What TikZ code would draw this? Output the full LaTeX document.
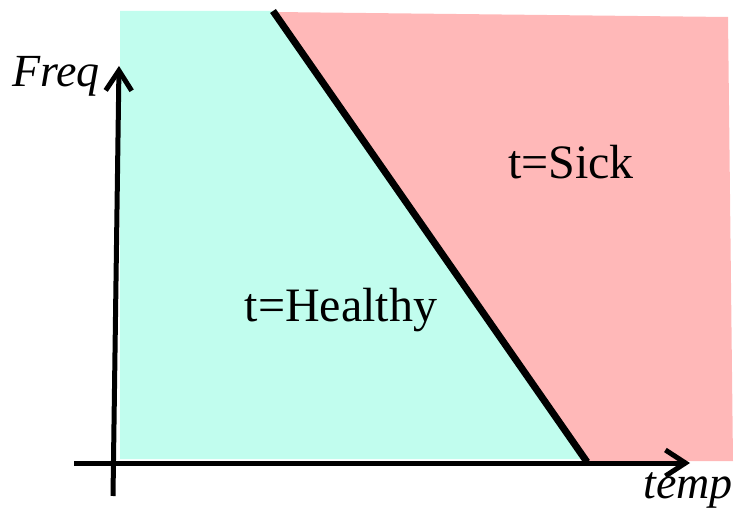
\documentclass[tikz,border=0pt]{standalone}
\usepackage{fontspec}
\setmainfont{Liberation Serif}
\usetikzlibrary{arrows.meta}
\definecolor{healthygreen}{RGB}{193,253,238}
\definecolor{sickpink}{RGB}{255,184,184}
\begin{document}
\begin{tikzpicture}[x=1pt, y=-1pt, >={Straight Barb[length=20pt, width=26pt]},
    bigtext/.style={font=\fontsize{48}{58}\selectfont},
    axislabel/.style={font=\fontsize{46}{56}\selectfont\itshape}]
    \useasboundingbox (0,0) rectangle (740,516);

    % Regions
    \fill[healthygreen] (120,11) -- (275,11) -- (588,459) -- (120,459) -- cycle;
    \fill[sickpink] (275,12) -- (728,17) -- (733,461) -- (588,461) -- cycle;

    % Decision boundary
    \coordinate (btop) at (273,11);
    \coordinate (bbot) at (587,462);
    \draw[line width=7pt] (btop) -- (bbot);

    % Axes
    \coordinate (yfoot) at (113,496);
    \coordinate (ytip) at (119,66);
    \coordinate (xfoot) at (74,463);
    \coordinate (xtip) at (690,463);
    \draw[->, line width=5pt] (yfoot) -- (ytip);
    \draw[->, line width=5pt] (xfoot) -- (xtip);
    \node[axislabel] (freq) at (56,76) {Freq};
    \node[axislabel] (temp) at (688,490) {temp};

    % Classes
    \node[bigtext] (sick) at (571,162) {t=Sick};
    \node[bigtext] (healthy) at (341,310) {t=Healthy};
\end{tikzpicture}
\end{document}
